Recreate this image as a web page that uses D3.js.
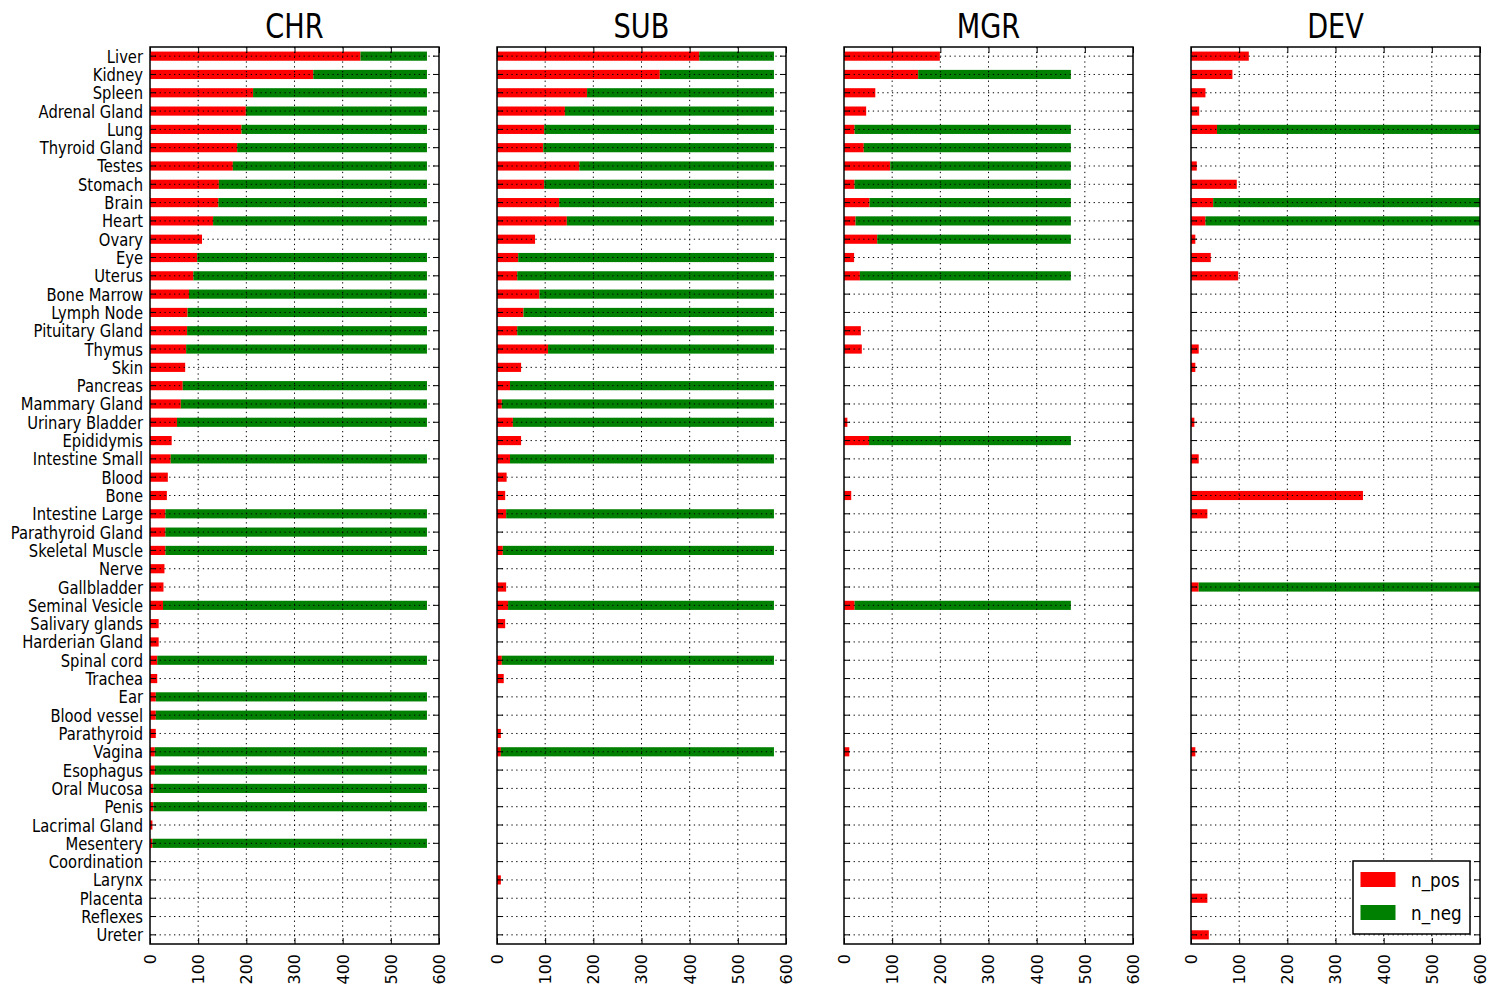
<!DOCTYPE html>
<html><head><meta charset="utf-8">
<script src="https://cdn.jsdelivr.net/npm/d3@7"></script>
<style>body{margin:0;background:#fff} svg{display:block} text{font-family:"DejaVu Sans",sans-serif;fill:#000}</style>
</head><body><svg id="c" width="1488" height="989"></svg>
<script>
const categories = ["Liver","Kidney","Spleen","Adrenal Gland","Lung","Thyroid Gland","Testes","Stomach","Brain","Heart","Ovary","Eye","Uterus","Bone Marrow","Lymph Node","Pituitary Gland","Thymus","Skin","Pancreas","Mammary Gland","Urinary Bladder","Epididymis","Intestine Small","Blood","Bone","Intestine Large","Parathyroid Gland","Skeletal Muscle","Nerve","Gallbladder","Seminal Vesicle","Salivary glands","Harderian Gland","Spinal cord","Trachea","Ear","Blood vessel","Parathyroid","Vagina","Esophagus","Oral Mucosa","Penis","Lacrimal Gland","Mesentery","Coordination","Larynx","Placenta","Reflexes","Ureter"];
const panelNames = ["CHR","SUB","MGR","DEV"];
const seriesNames = ["n_pos","n_neg"];
const seriesColors = ["#ff0000","#008000"];
const xTicks = [0,100,200,300,400,500,600];

const chrPos = [437,339,214,199,190,181,172,143,142,131,108,98,90,81,78,77,75,73,68,64,56,45,43,37,35,32,32,32,30,28,27,18,18,15,15,12,12,12,10,10,7,7,5,5,0,0,0,0,0];
const chrNeg = [138,236,361,376,385,394,403,432,433,444,0,477,485,494,497,498,500,0,507,511,519,0,532,0,0,543,543,543,0,0,548,0,0,560,0,563,563,0,565,565,568,568,0,570,0,0,0,0,0];
const subPos = [420,338,187,141,98,96,171,98,129,145,79,44,42,88,55,42,106,50,27,10,33,50,27,20,17,19,0,12,0,19,23,17,0,10,14,0,0,8,8,0,0,0,0,0,0,8,0,0,0];
const subNeg = [155,237,388,434,477,479,404,477,446,430,0,531,533,487,520,533,469,0,548,565,542,0,548,0,0,556,0,563,0,0,552,0,0,565,0,0,0,0,567,0,0,0,0,0,0,0,0,0,0];
const mgrPos = [199,154,65,46,22,41,96,22,53,24,69,21,33,0,0,35,37,0,0,0,7,52,0,0,15,0,0,0,0,0,22,0,0,0,0,0,0,0,11,0,0,0,0,0,0,0,0,0,0];
const mgrNeg = [0,317,0,0,449,430,375,449,418,447,402,0,438,0,0,0,0,0,0,0,0,419,0,0,0,0,0,0,0,0,449,0,0,0,0,0,0,0,0,0,0,0,0,0,0,0,0,0,0];
const devPos = [120,86,30,17,54,0,12,95,46,30,9,41,98,0,0,0,16,9,0,0,7,0,16,0,357,34,0,0,0,16,0,0,0,0,0,0,0,0,9,0,0,0,0,0,0,0,34,0,37];
const devNeg = [0,0,0,0,566,0,0,0,574,590,0,0,0,0,0,0,0,0,0,0,0,0,0,0,0,0,0,0,0,604,0,0,0,0,0,0,0,0,0,0,0,0,0,0,0,0,0,0,0];

const panelData = [[chrPos,chrNeg],[subPos,subNeg],[mgrPos,mgrNeg],[devPos,devNeg]];

(function(){
const svg = d3.select("#c");
const plotTop = 47, plotBottom = 944, left0 = 150, pw = 289, pstep = 347;
const y = d3.scaleBand().domain(categories).range([plotTop,plotBottom]).paddingInner(0.5).paddingOuter(0.25);
const yc = c => y(c) + y.bandwidth()/2;
const dash = "1.3,3.5";

panelNames.forEach((name,i)=>{
  const L = left0 + i*pstep;
  const x = d3.scaleLinear().domain([0,600]).range([L, L+pw]);
  const g = svg.append("g");
  const clipId = "clip"+i;
  svg.append("clipPath").attr("id",clipId).append("rect")
    .attr("x",L).attr("y",plotTop).attr("width",pw).attr("height",plotBottom-plotTop);

  const rows = categories.map((c,j)=>({c, pos: panelData[i][0][j], neg: panelData[i][1][j]}));
  const stacked = d3.stack().keys(["pos","neg"])(rows);
  const bars = g.append("g").attr("clip-path",`url(#${clipId})`);
  stacked.forEach((s,k)=>{
    bars.append("g").selectAll("rect").data(s.filter(d=>d[1]-d[0]>0)).join("rect")
      .attr("x",d=>x(d[0])).attr("width",d=>x(d[1])-x(d[0]))
      .attr("y",d=>y(d.data.c)).attr("height",y.bandwidth())
      .attr("fill",seriesColors[k]);
  });

  const grid = g.append("g").attr("stroke","#000").attr("stroke-width",1).attr("stroke-dasharray",dash);
  grid.selectAll("line.h").data(categories).join("line").attr("class","h")
    .attr("x1",L).attr("x2",L+pw).attr("y1",d=>yc(d)).attr("y2",d=>yc(d));
  grid.selectAll("line.v").data(xTicks.slice(1,-1)).join("line").attr("class","v")
    .attr("x1",d=>x(d)).attr("x2",d=>x(d)).attr("y1",plotTop).attr("y2",plotBottom);

  const bot = g.append("g").attr("transform",`translate(0,${plotBottom})`)
    .call(d3.axisBottom(x).tickValues(xTicks).tickSizeInner(-6).tickSizeOuter(0).tickFormat(d3.format("d")));
  bot.select(".domain").remove();
  bot.selectAll("text").attr("transform","rotate(-90)").attr("x",-10).attr("y",0).attr("dy","0.34em")
    .attr("text-anchor","end").attr("font-size",16).attr("font-family","DejaVu Sans");
  const tp = g.append("g").attr("transform",`translate(0,${plotTop})`)
    .call(d3.axisTop(x).tickValues(xTicks).tickSizeInner(-6).tickSizeOuter(0).tickFormat(""));
  tp.select(".domain").remove();
  const lf = g.append("g").attr("transform",`translate(${L},0)`)
    .call(d3.axisLeft(y).tickSizeInner(-6).tickSizeOuter(0).tickPadding(7).tickFormat(i===0? (d=>d) : ""));
  lf.select(".domain").remove();
  lf.selectAll("text").attr("x",0).attr("dy","0.36em")
    .attr("transform","translate(-7,0) scale(0.82,1)")
    .attr("font-size",18).attr("font-family","DejaVu Sans");
  const rt = g.append("g").attr("transform",`translate(${L+pw},0)`)
    .call(d3.axisRight(y).tickSizeInner(-6).tickSizeOuter(0).tickFormat(""));
  rt.select(".domain").remove();
  g.selectAll(".tick line").attr("stroke","#000").attr("stroke-width",1);

  g.append("rect").attr("x",L).attr("y",plotTop).attr("width",pw).attr("height",plotBottom-plotTop)
    .attr("fill","none").attr("stroke","#000").attr("stroke-width",1.5);

  g.append("text").attr("transform",`translate(${L+pw/2},37.5) scale(0.8,1)`)
    .attr("text-anchor","middle").attr("font-size",34).text(name);

  if (i === panelNames.length-1) {
    const lg = g.append("g").attr("transform",`translate(${L+pw-127},861)`);
    lg.append("rect").attr("x",0).attr("y",0).attr("width",117).attr("height",73)
      .attr("fill","#fff").attr("stroke","#000").attr("stroke-width",1.5);
    seriesNames.forEach((s,k)=>{
      lg.append("rect").attr("x",7.5).attr("y",11+k*33).attr("width",35).attr("height",15).attr("fill",seriesColors[k]);
      lg.append("text").attr("transform",`translate(58,${26+k*32.5}) scale(0.84,1)`)
        .attr("font-size",20).text(s);
    });
  }
});
})();
</script></body></html>
